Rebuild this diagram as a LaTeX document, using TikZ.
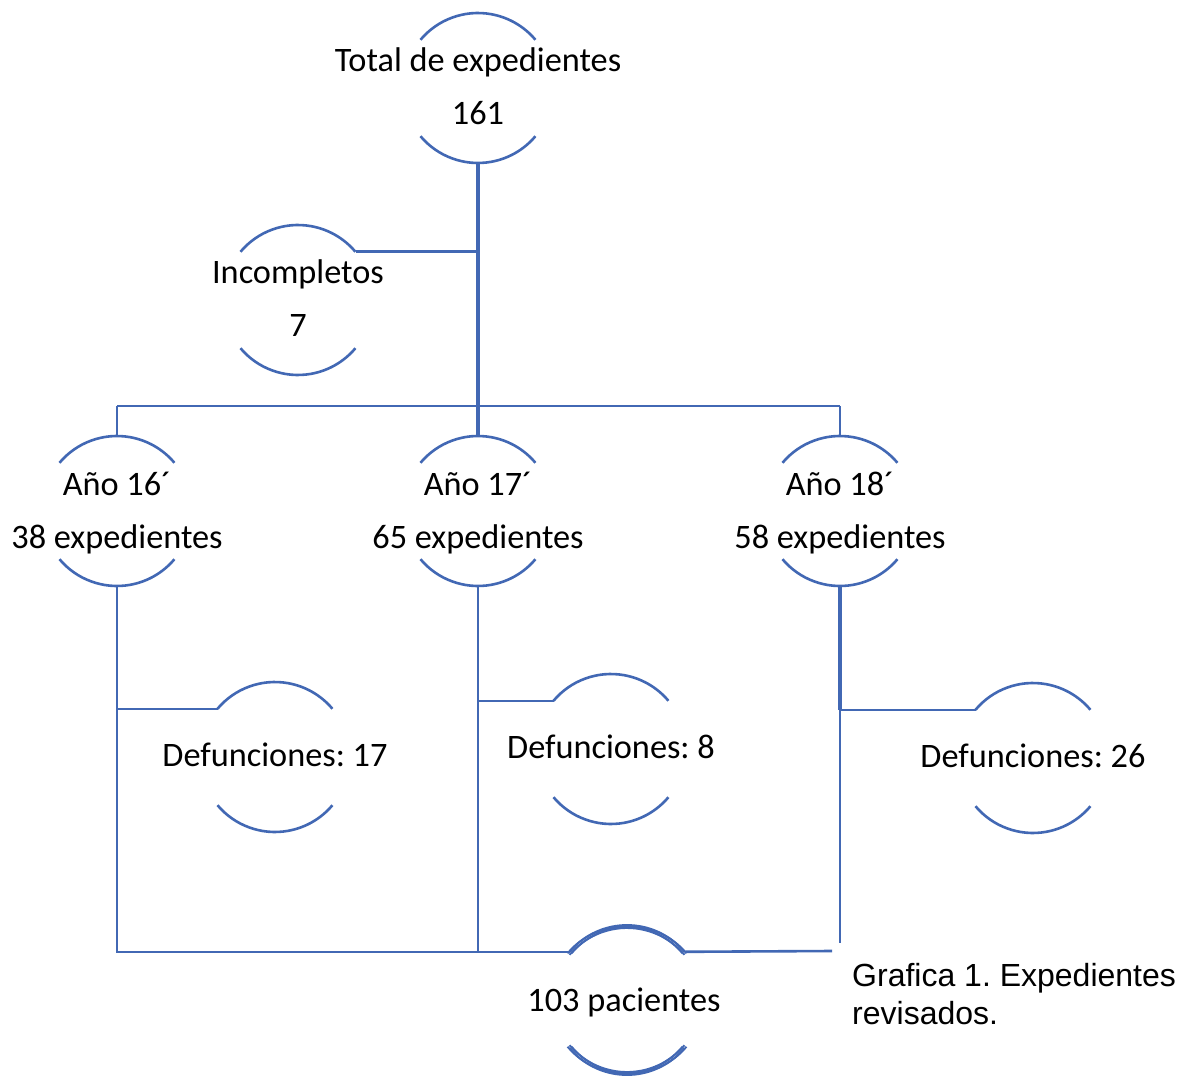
\documentclass[tikz,border=0pt]{standalone}
\usepackage{fontspec}
\setmainfont{Carlito}
\newfontfamily\capfont{Liberation Sans}
\usetikzlibrary{calc}
\definecolor{lnblue}{RGB}{66,104,180}
\tikzset{
  lbl/.style={align=center,inner sep=0pt,font=\frenchspacing\fontsize{34.3}{53}\selectfont},
  arcline/.style={draw=lnblue,line width=2.6pt},
  thinln/.style={draw=lnblue,line width=2.6pt},
  thickln/.style={draw=lnblue,line width=4.2pt},
}
\newcommand{\circnode}[5]{%
  \coordinate (#1) at (#2,#3);
  \coordinate (#1-n) at ($(#1)+(0,-75)$);
  \coordinate (#1-s) at ($(#1)+(0,75)$);
  \coordinate (#1-nw) at ($(#1)+(-57.5,-48.2)$);
  \coordinate (#1-ne) at ($(#1)+(57.5,-48.2)$);
  \coordinate (#1-sw) at ($(#1)+(-57.5,48.2)$);
  \coordinate (#1-se) at ($(#1)+(57.5,48.2)$);
  \draw[arcline] (#1-nw) arc[start angle=220,end angle=320,radius=75];
  \draw[arcline] (#1-sw) arc[start angle=140,end angle=40,radius=75];
  \node[lbl] (#1-t) at ($(#1)+(0,#4)$) {#5};
}
\begin{document}
\frenchspacing
\begin{tikzpicture}[x=1pt,y=-1pt]
\useasboundingbox[fill=white] (0,0) rectangle (1181,1078);
\circnode{tot}{478}{88}{-2}{Total de expedientes\\161}
\circnode{inc}{298}{300}{-2}{Incompletos\\7}
\circnode{a16}{117}{511}{2.5}{Año 16´\\38 expedientes}
\circnode{a17}{478}{511}{2.5}{Año 17´\\65 expedientes}
\circnode{a18}{840}{511}{2.5}{Año 18´\\58 expedientes}
\circnode{d17}{275}{757}{-2}{Defunciones: 17}
\circnode{d8}{611}{749}{-2}{Defunciones: 8}
\circnode{d26}{1033}{758}{-2}{Defunciones: 26}
% 103 pacientes with layered arcs
\coordinate (pac) at (627,1000);
\coordinate (pac-nw) at ($(pac)+(-57.5,-48.2)$);
\coordinate (pac-ne) at ($(pac)+(57.5,-48.2)$);
\foreach \dx/\dy in {0/0,2/1.5,-2/1.5,0/3}{
  \draw[arcline,line width=1.9pt] ($(pac)+(\dx,\dy)+(220:75)$) arc[start angle=220,end angle=320,radius=75];
  \draw[arcline,line width=1.9pt] ($(pac)+(\dx,-\dy)+(140:75)$) arc[start angle=140,end angle=40,radius=75];
}
\node[lbl] (pac-t) at (624,1002) {103 pacientes};
% connectors
\coordinate (jinc) at (tot|-inc-ne);
\coordinate (bar) at (478,406);
\coordinate (bar16) at (a16|-bar);
\coordinate (bar18) at (a18|-bar);
\draw[thickln] (tot-s) -- (a17-n);
\draw[thinln] (inc-ne) -- (jinc);
\draw[thinln] (bar16) -- (bar18);
\draw[thinln] (bar16) -- (a16-n);
\draw[thinln] (bar18) -- (a18-n);
\coordinate (b16) at (a16|-pac-nw);
\coordinate (j16) at (a16|-d17-nw);
\coordinate (b17) at (a17|-pac-nw);
\coordinate (j17) at (a17|-d8-nw);
\coordinate (j18) at (a18|-d26-nw);
\coordinate (e18) at (840,943);
\coordinate (r18) at (832,951);
\draw[thinln] (a16-s) -- (b16) -- (pac-nw);
\draw[thinln] (j16) -- (d17-nw);
\draw[thinln] (a17-s) -- (b17);
\draw[thinln] (j17) -- (d8-nw);
\draw[draw=lnblue,line width=3.6pt] (a18-s) -- (j18);
\draw[thinln] (j18) -- (d26-nw);
\draw[thinln] (j18) -- (e18);
\draw[thinln] (pac-ne) -- (r18);
% caption
\node[anchor=north west,inner sep=0pt,align=left,font=\capfont\frenchspacing\fontsize{32}{38}\selectfont] (cap) at (852,963) {Grafica 1. Expedientes\\revisados.};
\end{tikzpicture}
\end{document}
